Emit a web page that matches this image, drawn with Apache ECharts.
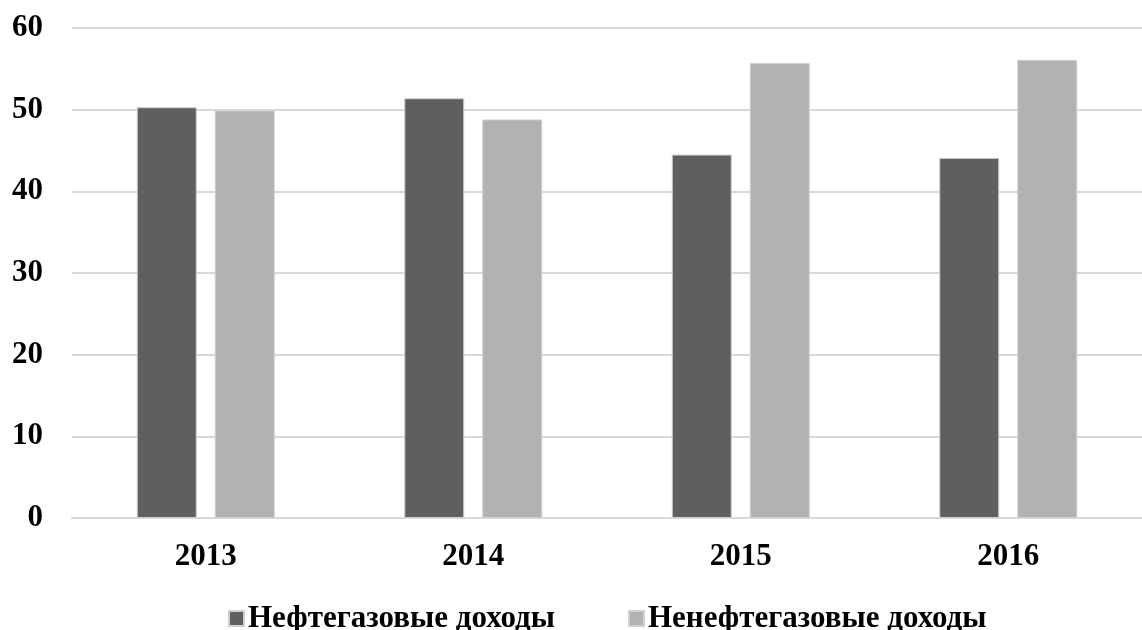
<!DOCTYPE html>
<html>
<head>
<meta charset="utf-8">
<script src="https://cdn.jsdelivr.net/npm/echarts@6/dist/echarts.min.js"></script>
<style>
  html, body { margin: 0; padding: 0; background: #fff; }
  #box { width: 1142px; height: 630px; }
</style>
</head>
<body>
<div id="box"></div>
<script>
// данные
var years = ["2013", "2014", "2015", "2016"];
var oilGas = [50.3, 51.4, 44.5, 44.1];
var nonOilGas = [49.9, 48.8, 55.7, 56.1];
var seriesNames = ["Нефтегазовые доходы", "Ненефтегазовые доходы"];

var myChart = echarts.init(document.getElementById("box"));
var font = "'Liberation Serif', 'Times New Roman', serif";
var option = {
  animation: false,
  color: ["#5f5f5f", "#b2b2b2"],
  textStyle: { fontFamily: font },
  grid: { left: 72, right: 0, top: 28, bottom: 112 },
  legend: {
    top: 598,
    left: 223,
    itemWidth: 15,
    itemHeight: 15,
    itemGap: 73,
    icon: "rect",
    textStyle: { fontFamily: font, fontWeight: "bold", fontSize: 31, color: "#000", padding: [0, 0, 0, -1] },
    data: seriesNames
  },
  xAxis: {
    type: "category",
    data: years,
    axisTick: { show: false },
    axisLine: { lineStyle: { color: "#d9d9d9", width: 2 } },
    axisLabel: { fontFamily: font, fontWeight: "bold", fontSize: 31, color: "#000", margin: 23 }
  },
  yAxis: {
    type: "value",
    min: 0,
    max: 60,
    interval: 10,
    axisLine: { show: false },
    axisTick: { show: false },
    splitLine: { lineStyle: { color: "#d9d9d9", width: 2 } },
    axisLabel: { fontFamily: font, fontWeight: "bold", fontSize: 31, color: "#000", margin: 29 }
  },
  series: [
    { name: seriesNames[0], type: "bar", data: oilGas, barWidth: 60, barGap: "30%",
      itemStyle: { borderColor: "#d0d0d0", borderWidth: 1 } },
    { name: seriesNames[1], type: "bar", data: nonOilGas, barWidth: 60, barGap: "30%",
      itemStyle: { borderColor: "#d0d0d0", borderWidth: 1 } }
  ]
};
myChart.setOption(option);
</script>
</body>
</html>
